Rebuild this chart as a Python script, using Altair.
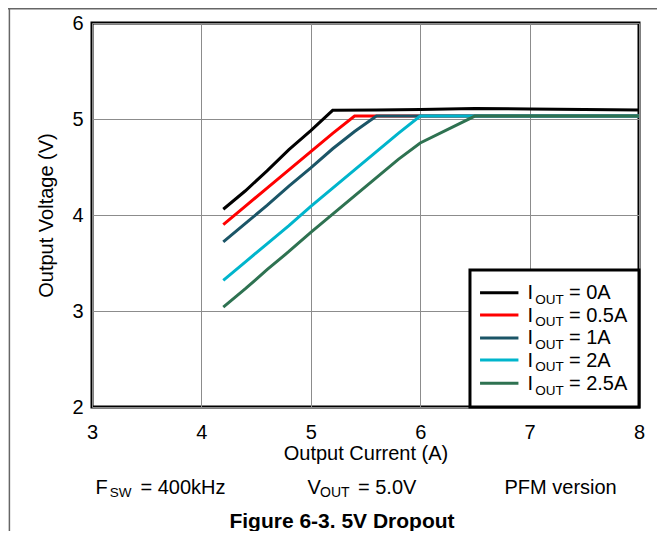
import altair as alt
import pandas as pd

FONT = "Liberation Sans"

# ---- data ----
labels = ["0A", "0.5A", "1A", "2A", "2.5A"]
colors = ["#000000", "#ff0000", "#1b5567", "#00b5cc", "#2e7251"]

x_0A = [4.2, 4.4, 4.6, 4.8, 5.0, 5.2, 5.6, 6.0, 6.5, 7.0, 7.5, 8.0]
y_0A = [4.06, 4.25, 4.46, 4.68, 4.88, 5.09, 5.095, 5.10, 5.11, 5.105, 5.10, 5.095]

x_05A = [4.2, 4.4, 4.6, 4.8, 5.0, 5.2, 5.4, 5.6, 6.0, 6.5, 7.0, 7.5, 8.0]
y_05A = [3.90, 4.09, 4.28, 4.47, 4.66, 4.85, 5.03, 5.03, 5.03, 5.03, 5.03, 5.03, 5.03]

x_1A = [4.2, 4.4, 4.6, 4.8, 5.0, 5.2, 5.4, 5.6, 6.0, 6.5, 7.0, 7.5, 8.0]
y_1A = [3.72, 3.91, 4.10, 4.30, 4.49, 4.69, 4.87, 5.03, 5.03, 5.03, 5.03, 5.03, 5.03]

x_2A = [4.2, 4.4, 4.6, 4.8, 5.0, 5.2, 5.4, 5.6, 5.8, 6.0, 6.5, 7.0, 7.5, 8.0]
y_2A = [3.32, 3.51, 3.70, 3.89, 4.09, 4.28, 4.47, 4.66, 4.85, 5.03, 5.03, 5.03, 5.03, 5.03]

x_25A = [4.2, 4.4, 4.6, 4.8, 5.0, 5.2, 5.4, 5.6, 5.8, 6.0, 6.5, 7.0, 7.5, 8.0]
y_25A = [3.04, 3.23, 3.43, 3.62, 3.82, 4.01, 4.20, 4.39, 4.58, 4.75, 5.03, 5.03, 5.03, 5.03]

x_ticks = [3, 4, 5, 6, 7, 8]
y_ticks = [2, 3, 4, 5, 6]

series = [(labels[0], x_0A, y_0A), (labels[1], x_05A, y_05A), (labels[2], x_1A, y_1A),
          (labels[3], x_2A, y_2A), (labels[4], x_25A, y_25A)]
rows = []
for lab, xs, ys in series:
    for xv, yv in zip(xs, ys):
        rows.append({"s": lab, "x": xv, "y": yv})
df = pd.DataFrame(rows)

# ---- legend layout (in data units) ----
leg_box = pd.DataFrame({"x": [6.455], "x2": [8.0], "y": [2.0], "y2": [3.427]})
leg_rows_y = [3.19, 2.958, 2.72, 2.49, 2.247]
leg = pd.DataFrame({"s": labels, "x": [6.547] * 5, "x2": [6.898] * 5, "y": leg_rows_y,
                    "main": ["I"] * 5, "sub": ["OUT"] * 5,
                    "rest": ["= " + l for l in labels]})

xscale = alt.Scale(domain=[3, 8], nice=False, zero=False)
yscale = alt.Scale(domain=[2, 6], nice=False, zero=False)
cscale = alt.Scale(domain=labels, range=colors)

xaxis = alt.Axis(values=x_ticks, title="Output Current (A)", grid=True, ticks=False,
                 domain=False, labelFlush=False, labelPadding=15, labelFontSize=20,
                 titleFontSize=20, titleY=52, titleBaseline="alphabetic", format="d")
yaxis = alt.Axis(values=y_ticks, title="Output Voltage (V)", grid=True, ticks=False,
                 domain=False, labelPadding=9, labelFontSize=20, titleFontSize=20,
                 titleX=-46, titleBaseline="middle", format="d")

X = alt.X("x:Q", scale=xscale, axis=xaxis)
X2 = alt.X("x2:Q", scale=xscale, axis=xaxis)
Y = alt.Y("y:Q", scale=yscale, axis=yaxis)
C = alt.Color("s:N", scale=cscale, legend=None)

layers = []
for lab in labels:
    layers.append(
        alt.Chart(df).transform_filter(alt.datum.s == lab)
        .mark_line(strokeWidth=3, strokeJoin="miter")
        .encode(x=X, y=Y, color=C)
    )

box = alt.Chart(leg_box).mark_rect(fill="white", stroke="black", strokeWidth=3).encode(
    x=X, x2="x2:Q", y=Y, y2="y2:Q")
leg_lines = alt.Chart(leg).mark_rule(strokeWidth=3).encode(x=X, x2="x2:Q", y=Y, color=C)
leg_main = alt.Chart(leg).mark_text(align="left", baseline="alphabetic", dx=9, dy=6.6,
                                    fontSize=20, font=FONT, color="black").encode(
    x=X2, y=Y, text="main:N")
leg_sub = alt.Chart(leg).mark_text(align="left", baseline="alphabetic", dx=16.8, dy=11.3,
                                   fontSize=13.5, font=FONT, color="black").encode(
    x=X2, y=Y, text="sub:N")
leg_rest = alt.Chart(leg).mark_text(align="left", baseline="alphabetic", dx=50.5, dy=6.6,
                                    fontSize=20, font=FONT, color="black").encode(
    x=X2, y=Y, text="rest:N")

one = pd.DataFrame({"a": [0]})


def txt(t, x, y, size=20, weight="normal", align="left"):
    return alt.Chart(one).mark_text(align=align, baseline="alphabetic", fontSize=size,
                                    font=FONT, fontWeight=weight, color="black").encode(
        x=alt.value(x), y=alt.value(y), text=alt.value(t))


notes = [
    txt("F", 3.4, 471), txt("SW", 17.8, 474, size=13.5), txt("= 400kHz", 48.5, 471),
    txt("V", 215.5, 471), txt("OUT", 228, 474, size=14), txt("= 5.0V", 266, 471),
    txt("PFM version", 412.5, 471),
    txt("Figure 6-3. 5V Dropout", 250, 505, size=21, weight="bold", align="center"),
]

frame_left = alt.Chart(one).mark_rule(color="#666666", strokeWidth=1.5).encode(
    x=alt.value(-82.6), y=alt.value(-15), y2=alt.value(510))
frame_top = alt.Chart(one).mark_rule(color="#666666", strokeWidth=1.5).encode(
    x=alt.value(-84), x2=alt.value(580), y=alt.value(-14.2))

chart = alt.layer(*layers, box, leg_lines, leg_main, leg_sub, leg_rest, *notes,
                  frame_left, frame_top).properties(
    width=547, height=384,
    autosize=alt.AutoSizeParams(type="none"),
    padding={"left": 84, "top": 15, "right": 18, "bottom": 124},
).configure_view(stroke="black", strokeWidth=3).configure_axis(
    gridColor="#8c8c8c", gridWidth=1, labelFont=FONT, titleFont=FONT,
    labelColor="black", titleColor="black", titleFontWeight="normal",
)

chart.save("out.html", embed_options={"renderer": "svg", "actions": False})
